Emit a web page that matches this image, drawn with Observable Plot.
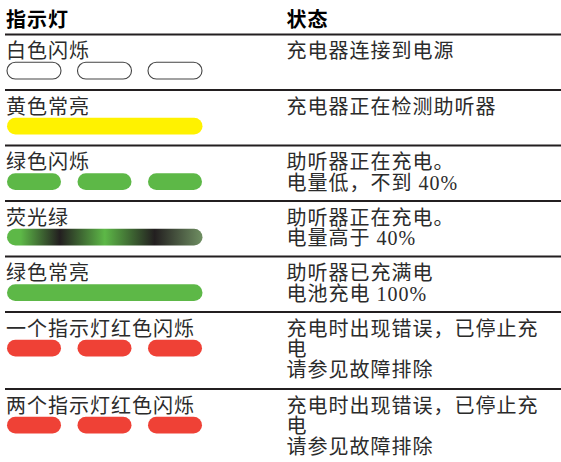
<!DOCTYPE html>
<html>
<head>
<meta charset="utf-8">
<script src="https://cdn.jsdelivr.net/npm/d3@7"></script>
<script src="https://cdn.jsdelivr.net/npm/@observablehq/plot@0.6"></script>
<style>
  html, body { margin: 0; padding: 0; background: #fff; }
  #chart svg { display: block; }
</style>
</head>
<body>
<div id="chart"></div>
<script>
// ---- data ----
const headers = ["指示灯", "状态"];
const indicators = ["白色闪烁", "黄色常亮", "绿色闪烁", "荧光绿", "绿色常亮", "一个指示灯红色闪烁", "两个指示灯红色闪烁"];
const statuses = [
  "充电器连接到电源",
  "充电器正在检测助听器",
  "助听器正在充电。\n电量低，不到 40%",
  "助听器正在充电。\n电量高于 40%",
  "助听器已充满电\n电池充电 100%",
  "充电时出现错误，已停止充\n电\n请参见故障排除",
  "充电时出现错误，已停止充\n电\n请参见故障排除"
];
const lampColors = ["white", "yellow", "green", "fluorescent", "green", "red", "red"];
const lampPatterns = ["blink", "steady", "blink", "pulse", "steady", "blink", "blink"];

// ---- layout / style ----
const W = 561, H = 462;
const FS = 20, LH = 1.03;
const ink = "#231f20";
const font = "'Liberation Serif', 'Noto Sans CJK SC', serif";
const palette = {white: "#ffffff", yellow: "#fff200", green: "#5db847", red: "#ef4136", fluorescent: "url(#fluorGrad)"};
const headerSep = 33;
const colX = [5.5, 286];

const rows = [];
let rowTop = headerSep;
indicators.forEach((label, i) => {
  const n = statuses[i].split("\n").length;
  const h = Math.max(55.5, 12.5 + 21.5 * n);
  rows.push({label, status: statuses[i], color: lampColors[i], pattern: lampPatterns[i], top: rowTop});
  rowTop += h;
});
const seps = [headerSep, ...rows.slice(1).map(r => r.top)];

const anchorY = baseline => baseline - 0.71 * LH * FS;

const texts = [];
rows.forEach(r => {
  texts.push({x: colX[0], y: anchorY(r.top + 24.8), text: r.label});
  texts.push({x: colX[1], y: anchorY(r.top + 24.8), text: r.status});
});

const lamps = [];
rows.forEach(r => {
  const y1 = r.top + 29.3, y2 = r.top + 46;
  if (r.pattern === "blink") {
    for (let k = 0; k < 3; k++) lamps.push({x1: 7 + k * 70.5, x2: 7 + k * 70.5 + 54, y1, y2, color: r.color});
  } else {
    lamps.push({x1: 7, x2: 202.5, y1, y2, color: r.color});
  }
});

const lampMarks = Object.keys(palette).map(c =>
  Plot.rect(lamps.filter(d => d.color === c), {
    x1: "x1", x2: "x2", y1: "y1", y2: "y2", rx: 8.4,
    fill: palette[c],
    stroke: c === "white" ? "#444" : "none",
    strokeWidth: 1.1
  })
);

const svg = Plot.plot({
  width: W, height: H, margin: 0,
  x: {domain: [0, W], range: [0, W], axis: null},
  y: {domain: [0, H], range: [0, H], axis: null},
  style: {background: "#fff", fontFamily: font, letterSpacing: "1px"},
  marks: [
    Plot.ruleY(seps, {y: d => d + 1, x1: 5, x2: W, stroke: ink, strokeWidth: 2.2}),
    ...lampMarks,
    Plot.text(headers.map((t, i) => ({x: colX[i], y: 26, text: t})), {
      x: "x", y: "y", text: "text", textAnchor: "start", lineAnchor: "bottom",
      fontSize: FS, fontWeight: "bold", fill: "#000", fontFamily: "'Noto Sans CJK SC', sans-serif"
    }),
    Plot.text(texts, {
      x: "x", y: "y", text: "text", textAnchor: "start", lineAnchor: "top", lineHeight: LH,
      fontSize: FS, fill: "#2b2b2b"
    })
  ]
});

// gradient definition for the fluorescent (pulsing) lamp
const defs = d3.select(svg).insert("defs", ":first-child");
const g = defs.append("linearGradient").attr("id", "fluorGrad").attr("x1", 0).attr("x2", 1).attr("y1", 0).attr("y2", 0);
[[0, "#5db847"], [0.07, "#5db847"], [0.27, ink], [0.5, "#5db847"], [0.755, ink], [1, "#6f8f62"]]
  .forEach(([o, c]) => g.append("stop").attr("offset", o).attr("stop-color", c));

document.getElementById("chart").appendChild(svg);
</script>
</body>
</html>
